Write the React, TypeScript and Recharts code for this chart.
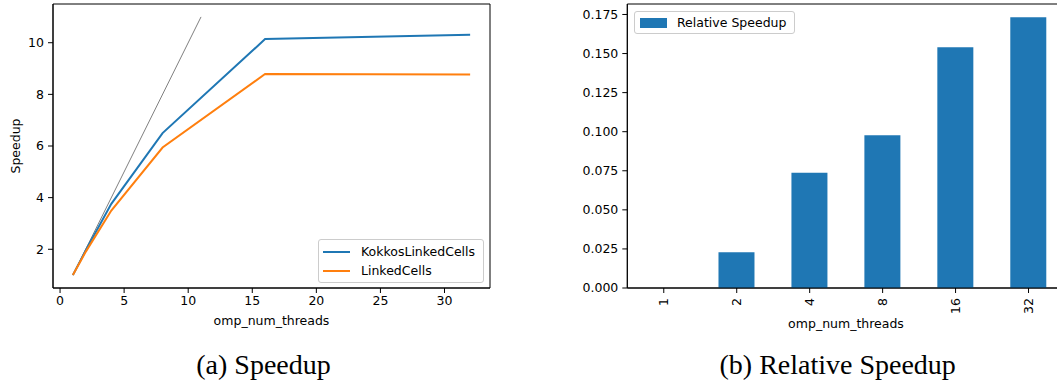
import React from 'react';
import {
  LineChart,
  Line,
  BarChart,
  Bar,
  XAxis,
  YAxis,
  Legend,
  ReferenceArea
} from 'recharts';

// speedup vs thread count
const threads = [1, 2, 4, 8, 16, 32];
const kokkosSpeedup = [1, 1.95, 3.76, 6.5, 10.14, 10.31];
const linkedSpeedup = [1, 1.9, 3.5, 5.94, 8.79, 8.77];
const idealThreads = [1, 11];
const idealSpeedup = [1, 11];
const speedupTicksX = [0, 5, 10, 15, 20, 25, 30];
const speedupTicksY = [2, 4, 6, 8, 10];

// relative speedup (Kokkos over plain)
const threadLabels = ['1', '2', '4', '8', '16', '32'];
const relativeSpeedup = [0, 0.0229, 0.0737, 0.0977, 0.154, 0.1733];
const relativeTicksY = [0, 0.025, 0.05, 0.075, 0.1, 0.125, 0.15, 0.175];

const speedupData = threads.map((t, i) => ({ threads: t, kokkos: kokkosSpeedup[i], linked: linkedSpeedup[i] }));
const idealData = idealThreads.map((t, i) => ({ threads: t, ideal: idealSpeedup[i] }));
const relativeData = threadLabels.map((t, i) => ({ threads: t, relative: relativeSpeedup[i] }));

const FONT = '"DejaVu Sans", sans-serif';
const tickStyle = { fontSize: 12.5, fill: '#000', fontFamily: FONT };
const BLUE = '#1f77b4';
const ORANGE = '#ff7f0e';

const SpeedupLegend = ({ payload }: any) => (
  <div style={{
    border: '1px solid #ccc', borderRadius: 3, background: 'rgba(255,255,255,0.8)',
    padding: '2px 6px 2px 4px', fontSize: 12.5, fontFamily: FONT, color: '#000'
  }}>
    {(payload || []).filter((p: any) => p.type !== 'none').map((p: any) => (
      <div key={p.value} style={{ display: 'flex', alignItems: 'center', height: 19 }}>
        <span style={{ width: 27, height: 2, background: p.color, marginRight: 11 }} />
        {p.value}
      </div>
    ))}
  </div>
);

const RelativeLegend = ({ payload }: any) => (
  <div style={{
    border: '1px solid #ccc', borderRadius: 3, background: 'rgba(255,255,255,0.8)',
    padding: '0 8px 0 5px', height: 21, fontSize: 12.5, fontFamily: FONT, color: '#000',
    display: 'flex', alignItems: 'center'
  }}>
    {(payload || []).map((p: any) => (
      <React.Fragment key={p.value}>
        <span style={{ width: 27, height: 10, background: p.color, marginRight: 10 }} />
        {p.value}
      </React.Fragment>
    ))}
  </div>
);

const RotatedTick = ({ x, y, payload }: any) => (
  <text
    x={x}
    y={y}
    transform={`rotate(-90 ${x} ${y})`}
    textAnchor="end"
    dy="0.35em"
    style={tickStyle}
  >
    {payload.value}
  </text>
);

const axisTitle: React.CSSProperties = {
  position: 'absolute', fontFamily: FONT, fontSize: 12.5, color: '#000', whiteSpace: 'nowrap'
};
const caption: React.CSSProperties = {
  position: 'absolute', fontFamily: '"Liberation Serif", serif', fontSize: 28, color: '#000',
  whiteSpace: 'nowrap', transform: 'translateX(-50%)'
};

export default function App() {
  return (
    <div style={{ position: 'absolute', left: 0, top: 0, width: 1057, height: 383, overflow: 'hidden', background: '#fff' }}>
      <div style={{ position: 'absolute', left: 0, top: 0 }}>
        <LineChart width={500} height={330} data={speedupData} margin={{ top: 4, right: 10, left: 0, bottom: 0 }}>
          <ReferenceArea x1={-0.55} x2={33.55} y1={0.5} y2={11.5} fill="none" stroke="#000" strokeWidth={1} />
          <XAxis
            dataKey="threads"
            type="number"
            domain={[-0.55, 33.55]}
            ticks={speedupTicksX}
            allowDataOverflow
            height={42}
            tickSize={5}
            tickMargin={3}
            stroke="#000"
            tick={tickStyle}
          />
          <YAxis
            type="number"
            domain={[0.5, 11.5]}
            ticks={speedupTicksY}
            allowDataOverflow
            width={53}
            tickSize={5}
            tickMargin={4}
            stroke="#000"
            tick={tickStyle}
          />
          <Line data={idealData} dataKey="ideal" type="linear" stroke="#808080" strokeWidth={1} dot={false} legendType="none" isAnimationActive={false} />
          <Line dataKey="kokkos" name="KokkosLinkedCells" type="linear" stroke={BLUE} strokeWidth={2} dot={false} isAnimationActive={false} />
          <Line dataKey="linked" name="LinkedCells" type="linear" stroke={ORANGE} strokeWidth={2} dot={false} isAnimationActive={false} />
          <Legend
            layout="horizontal"
            verticalAlign="middle"
            align="center"
            content={<SpeedupLegend />}
            wrapperStyle={{ position: 'absolute', left: 318, top: 239, width: 166, bottom: 'auto' }}
          />
        </LineChart>
      </div>

      <div style={{ position: 'absolute', left: 540, top: 0 }}>
        <BarChart width={525} height={330} data={relativeData} margin={{ top: 4, right: 0, left: 0, bottom: 0 }} barCategoryGap="25%">
          <ReferenceArea y1={0} y2={0.1817} fill="none" stroke="#000" strokeWidth={1} />
          <XAxis
            dataKey="threads"
            height={42}
            tickSize={5}
            tickMargin={5}
            stroke="#000"
            tick={<RotatedTick />}
            interval={0}
          />
          <YAxis
            type="number"
            domain={[0, 0.1817]}
            ticks={relativeTicksY}
            allowDataOverflow
            width={87.3}
            tickSize={5}
            tickMargin={4}
            stroke="#000"
            tick={tickStyle}
            tickFormatter={(v: number) => v.toFixed(3)}
          />
          <Bar dataKey="relative" name="Relative Speedup" fill={BLUE} isAnimationActive={false} />
          <Legend
            layout="horizontal"
            verticalAlign="middle"
            align="center"
            content={<RelativeLegend />}
            wrapperStyle={{ position: 'absolute', left: 94, top: 11, width: 'auto', bottom: 'auto' }}
          />
        </BarChart>
      </div>

      <div style={{ ...axisTitle, left: 271.5, top: 313, transform: 'translateX(-50%)' }}>omp_num_threads</div>
      <div style={{ ...axisTitle, left: 846, top: 316, transform: 'translateX(-50%)' }}>omp_num_threads</div>
      <div style={{ ...axisTitle, left: 15, top: 146, transform: 'translate(-50%, -50%) rotate(-90deg)' }}>Speedup</div>

      <div style={{ ...caption, left: 263.5, top: 349 }}>(a) Speedup</div>
      <div style={{ ...caption, left: 837.7, top: 349 }}>(b) Relative Speedup</div>
    </div>
  );
}
